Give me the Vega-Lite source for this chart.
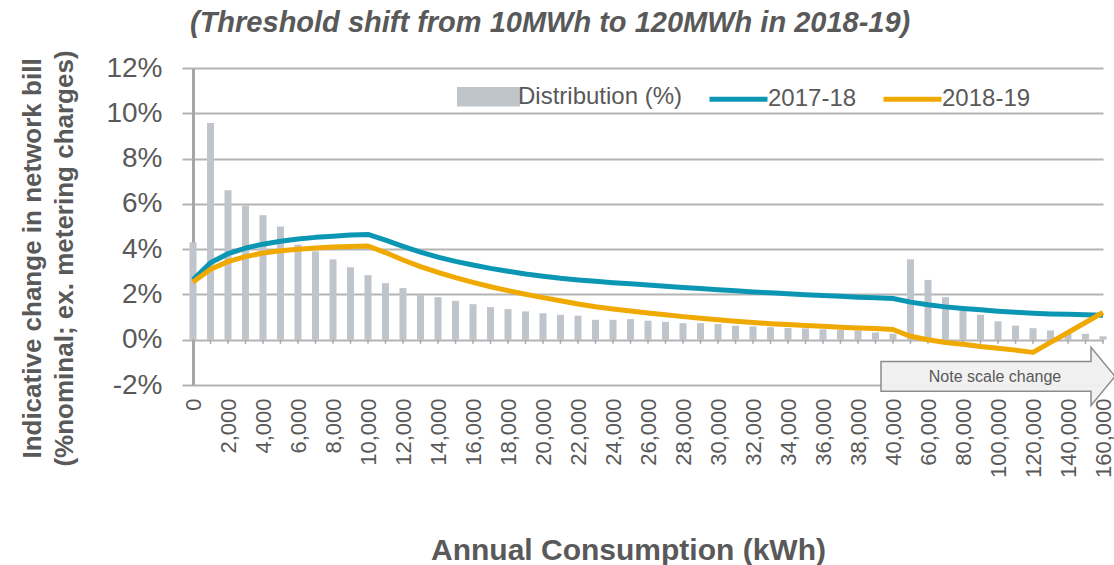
{
  "$schema": "https://vega.github.io/schema/vega-lite/v6.json",
  "width": 910,
  "height": 317,
  "autosize": {"type": "none"},
  "padding": {"left": 193, "top": 68, "right": 11, "bottom": 180},
  "background": "white",
  "config": {"font": "Liberation Sans", "view": {"stroke": null}},
  "title": {"text": "(Threshold shift from 10MWh to 120MWh in 2018-19)", "anchor": "start", "frame": "group", "fontSize": 29, "fontWeight": "bold", "fontStyle": "italic", "color": "#595959", "dx": -3, "offset": 12},
  "data": {"values": [
    {"kWh": 0, "Distribution (%)": 0.043, "2017-18": 0.0265, "2018-19": 0.0255},
    {"kWh": 1000, "Distribution (%)": 0.0957, "2017-18": 0.034, "2018-19": 0.0311},
    {"kWh": 2000, "Distribution (%)": 0.066, "2017-18": 0.038, "2018-19": 0.0345},
    {"kWh": 3000, "Distribution (%)": 0.0592, "2017-18": 0.0405, "2018-19": 0.0367},
    {"kWh": 4000, "Distribution (%)": 0.055, "2017-18": 0.0422, "2018-19": 0.0383},
    {"kWh": 5000, "Distribution (%)": 0.05, "2017-18": 0.0435, "2018-19": 0.0393},
    {"kWh": 6000, "Distribution (%)": 0.042, "2017-18": 0.0445, "2018-19": 0.04},
    {"kWh": 7000, "Distribution (%)": 0.039, "2017-18": 0.0452, "2018-19": 0.0405},
    {"kWh": 8000, "Distribution (%)": 0.0355, "2017-18": 0.0457, "2018-19": 0.0409},
    {"kWh": 9000, "Distribution (%)": 0.032, "2017-18": 0.0462, "2018-19": 0.0412},
    {"kWh": 10000, "Distribution (%)": 0.0285, "2017-18": 0.0465, "2018-19": 0.0414},
    {"kWh": 11000, "Distribution (%)": 0.025, "2017-18": 0.044, "2018-19": 0.0385},
    {"kWh": 12000, "Distribution (%)": 0.0228, "2017-18": 0.0412, "2018-19": 0.0352},
    {"kWh": 13000, "Distribution (%)": 0.0198, "2017-18": 0.0387, "2018-19": 0.0323},
    {"kWh": 14000, "Distribution (%)": 0.0188, "2017-18": 0.0365, "2018-19": 0.0297},
    {"kWh": 15000, "Distribution (%)": 0.0172, "2017-18": 0.0346, "2018-19": 0.0274},
    {"kWh": 16000, "Distribution (%)": 0.0157, "2017-18": 0.033, "2018-19": 0.0253},
    {"kWh": 17000, "Distribution (%)": 0.0144, "2017-18": 0.0315, "2018-19": 0.0234},
    {"kWh": 18000, "Distribution (%)": 0.0135, "2017-18": 0.0302, "2018-19": 0.0217},
    {"kWh": 19000, "Distribution (%)": 0.0125, "2017-18": 0.029, "2018-19": 0.0201},
    {"kWh": 20000, "Distribution (%)": 0.0117, "2017-18": 0.028, "2018-19": 0.0186},
    {"kWh": 21000, "Distribution (%)": 0.011, "2017-18": 0.0271, "2018-19": 0.0172},
    {"kWh": 22000, "Distribution (%)": 0.0106, "2017-18": 0.0264, "2018-19": 0.0158},
    {"kWh": 23000, "Distribution (%)": 0.0088, "2017-18": 0.0258, "2018-19": 0.0146},
    {"kWh": 24000, "Distribution (%)": 0.0088, "2017-18": 0.0252, "2018-19": 0.0136},
    {"kWh": 25000, "Distribution (%)": 0.0091, "2017-18": 0.0247, "2018-19": 0.0127},
    {"kWh": 26000, "Distribution (%)": 0.0084, "2017-18": 0.0242, "2018-19": 0.0118},
    {"kWh": 27000, "Distribution (%)": 0.0079, "2017-18": 0.0236, "2018-19": 0.011},
    {"kWh": 28000, "Distribution (%)": 0.0073, "2017-18": 0.0231, "2018-19": 0.0102},
    {"kWh": 29000, "Distribution (%)": 0.0073, "2017-18": 0.0226, "2018-19": 0.0095},
    {"kWh": 30000, "Distribution (%)": 0.0069, "2017-18": 0.0221, "2018-19": 0.0088},
    {"kWh": 31000, "Distribution (%)": 0.0062, "2017-18": 0.0216, "2018-19": 0.0082},
    {"kWh": 32000, "Distribution (%)": 0.0059, "2017-18": 0.0211, "2018-19": 0.0076},
    {"kWh": 33000, "Distribution (%)": 0.0055, "2017-18": 0.0207, "2018-19": 0.0071},
    {"kWh": 34000, "Distribution (%)": 0.0052, "2017-18": 0.0203, "2018-19": 0.0067},
    {"kWh": 35000, "Distribution (%)": 0.005, "2017-18": 0.0199, "2018-19": 0.0063},
    {"kWh": 36000, "Distribution (%)": 0.0046, "2017-18": 0.0195, "2018-19": 0.0059},
    {"kWh": 37000, "Distribution (%)": 0.0043, "2017-18": 0.0192, "2018-19": 0.0055},
    {"kWh": 38000, "Distribution (%)": 0.004, "2017-18": 0.0188, "2018-19": 0.0052},
    {"kWh": 39000, "Distribution (%)": 0.0032, "2017-18": 0.0185, "2018-19": 0.0049},
    {"kWh": 40000, "Distribution (%)": 0.0027, "2017-18": 0.0182, "2018-19": 0.0045},
    {"kWh": 50000, "Distribution (%)": 0.0355, "2017-18": 0.0166, "2018-19": 0.0015},
    {"kWh": 60000, "Distribution (%)": 0.0264, "2017-18": 0.0154, "2018-19": 0.0},
    {"kWh": 70000, "Distribution (%)": 0.0188, "2017-18": 0.0145, "2018-19": -0.0012},
    {"kWh": 80000, "Distribution (%)": 0.0132, "2017-18": 0.0138, "2018-19": -0.002},
    {"kWh": 90000, "Distribution (%)": 0.011, "2017-18": 0.0132, "2018-19": -0.003},
    {"kWh": 100000, "Distribution (%)": 0.0081, "2017-18": 0.0126, "2018-19": -0.0038},
    {"kWh": 110000, "Distribution (%)": 0.0062, "2017-18": 0.0121, "2018-19": -0.0046},
    {"kWh": 120000, "Distribution (%)": 0.0051, "2017-18": 0.0117, "2018-19": -0.0056},
    {"kWh": 130000, "Distribution (%)": 0.0041, "2017-18": 0.0114, "2018-19": -0.0012},
    {"kWh": 140000, "Distribution (%)": 0.0026, "2017-18": 0.0112, "2018-19": 0.0032},
    {"kWh": 150000, "Distribution (%)": 0.0026, "2017-18": 0.011, "2018-19": 0.0076},
    {"kWh": 160000, "Distribution (%)": 0.0015, "2017-18": 0.0108, "2018-19": 0.012}
  ]},
  "transform": [{"fold": ["Distribution (%)", "2017-18", "2018-19"], "as": ["series", "value"]}],
  "layer": [
    {
      "transform": [{"filter": "datum.series == 'Distribution (%)'"}],
      "mark": {"type": "rule", "strokeWidth": 7, "strokeCap": "butt"},
      "encoding": {
        "x": {"field": "kWh", "type": "ordinal", "scale": {"type": "point", "padding": 0},
          "axis": {"orient": "bottom", "title": "Annual Consumption (kWh)", "labelAngle": 270, "labelAlign": "right", "labelBaseline": "middle", "labelPadding": 13, "labelFontSize": 22, "labelColor": "#595959", "labelOverlap": false, "labelExpr": "(datum.value <= 40000 && datum.value % 2000 == 0) || datum.value % 20000 == 0 ? format(datum.value, ',') : ''", "domain": false, "ticks": false, "grid": false, "titleFontSize": 30, "titleFontWeight": "bold", "titleColor": "#595959", "titleX": 435, "titleY": 165, "titleBaseline": "middle", "titleAnchor": "middle"}},
        "y": {"field": "value", "type": "quantitative", "scale": {"domain": [-0.02, 0.12], "nice": false, "zero": false},
          "axis": {"values": [-0.02, 0, 0.02, 0.04, 0.06, 0.08, 0.1, 0.12], "labelExpr": "replace(format(datum.value, '.0%'), '\u2212', '-')", "labelFontSize": 28, "labelColor": "#595959", "labelPadding": 20, "tickSize": 11, "tickColor": "#b4b4b4", "tickWidth": 2, "domainColor": "#a6a6a6", "domainWidth": 3, "gridColor": "#b4b4b4", "gridWidth": 2, "grid": true,
            "title": ["Indicative change in network bill", "(%nominal; ex. metering charges)"], "titleFontSize": 26, "titleFontWeight": "bold", "titleColor": "#595959", "titleAngle": 270, "titleAlign": "center", "titleBaseline": "top", "titleX": -174, "titleY": 190, "titleLineHeight": 32}},
        "y2": {"datum": 0},
        "color": {"field": "series", "type": "nominal", "scale": {"domain": ["Distribution (%)", "2017-18", "2018-19"], "range": ["#bfc5ca", "#0b97b3", "#f0a900"]},
          "legend": {"title": null, "orient": "none", "legendX": 264, "legendY": -3, "direction": "horizontal", "columns": 3, "columnPadding": 16, "symbolSize": 3364, "labelFontSize": 24, "labelLimit": 400, "labelColor": "#595959", "labelOffset": -2,
            "encode": {"symbols": {"update": {
              "shape": {"signal": "datum.label == 'Distribution (%)' ? 'M-1,-0.25H1V0.25H-1Z' : 'M-1,0H1'"},
              "fill": {"signal": "datum.label == 'Distribution (%)' ? '#bfc5ca' : 'transparent'"},
              "stroke": {"signal": "datum.label == 'Distribution (%)' ? 'transparent' : (datum.label == '2017-18' ? '#0b97b3' : '#f0a900')"},
              "strokeWidth": {"value": 5},
              "opacity": {"value": 1}
            }}}}}
      }
    },
    {
      "transform": [{"filter": "datum.series == 'Distribution (%)'"}],
      "mark": {"type": "rule", "strokeWidth": 1.5, "color": "#a6a6a6"},
      "encoding": {
        "x": {"field": "kWh", "type": "ordinal"},
        "y": {"datum": 0},
        "y2": {"datum": -0.0018}
      }
    },
    {
      "transform": [{"filter": "datum.series != 'Distribution (%)'"}],
      "mark": {"type": "line", "strokeWidth": 5, "strokeJoin": "round"},
      "encoding": {
        "x": {"field": "kWh", "type": "ordinal"},
        "y": {"field": "value", "type": "quantitative"},
        "color": {"field": "series", "type": "nominal"}
      }
    },
    {
      "data": {"values": [{"note": "Note scale change"}]},
      "mark": {"type": "point", "filled": true, "shape": "M-1,-0.128L0.795,-0.128L0.795,-0.248L1,0L0.795,0.248L0.795,0.128L-1,0.128Z", "size": 54756, "fill": "#f0f0f0", "stroke": "#8c8c8c", "strokeWidth": 1.5, "opacity": 1, "fillOpacity": 0.95},
      "encoding": {
        "x": {"datum": 100000, "type": "ordinal"},
        "y": {"datum": -0.0162, "type": "quantitative"}
      }
    },
    {
      "data": {"values": [{"note": "Note scale change"}]},
      "mark": {"type": "text", "fontSize": 16, "color": "#595959", "align": "center", "baseline": "middle", "dx": -3},
      "encoding": {
        "x": {"datum": 100000, "type": "ordinal"},
        "y": {"datum": -0.0166, "type": "quantitative"},
        "text": {"field": "note"}
      }
    }
  ]
}
